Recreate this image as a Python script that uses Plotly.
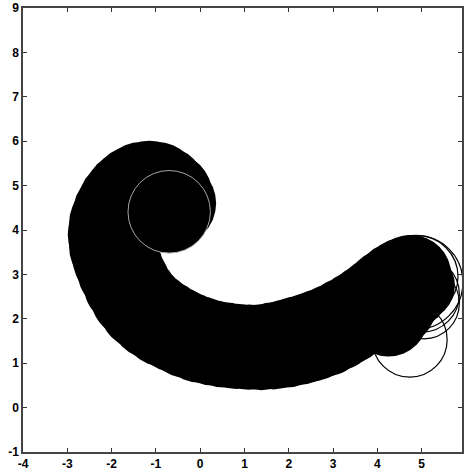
import plotly.graph_objects as go

# Dense sweep of circles forming the curled band: centres and radii
band_x = [-0.59, -0.68, -0.82, -0.98, -1.15, -1.33, -1.50, -1.65, -1.78, -1.90,
          -1.98, -2.01, -1.98, -1.90, -1.80, -1.66, -1.50, -1.30, -1.07, -0.82,
          -0.55, -0.28, 0.00, 0.28, 0.55, 0.82, 1.10, 1.38, 1.66, 1.94,
          2.22, 2.50, 2.78, 3.04, 3.30, 3.54, 3.78, 4.00, 4.22, 4.42,
          4.60, 4.75, 4.25, 4.45, 4.60, 4.78, 4.95]
band_y = [4.60, 4.80, 4.93, 5.02, 5.05, 5.02, 4.93, 4.80, 4.62, 4.40,
          4.15, 3.90, 3.62, 3.36, 3.10, 2.80, 2.52, 2.27, 2.07, 1.90,
          1.76, 1.63, 1.53, 1.46, 1.41, 1.38, 1.36, 1.36, 1.39, 1.44,
          1.51, 1.59, 1.69, 1.81, 1.95, 2.10, 2.27, 2.44, 2.62, 2.78,
          2.90, 2.97, 2.05, 2.28, 2.50, 2.62, 2.75]
band_r = [0.95, 0.95, 0.95, 0.96, 0.96, 0.96, 0.96, 0.96, 0.97, 0.97,
          0.98, 0.98, 0.98, 0.98, 0.98, 0.98, 0.98, 0.98, 0.98, 0.98,
          0.97, 0.97, 0.97, 0.96, 0.96, 0.96, 0.96, 0.97, 0.98, 0.99,
          1.00, 1.00, 1.00, 0.99, 0.98, 0.97, 0.96, 0.95, 0.95, 0.94,
          0.93, 0.92, 0.90, 0.88, 0.86, 0.83, 0.80]

# Starting circle (light rim)
ring_x, ring_y, ring_r = -0.70, 4.41, 0.93

# Sparse final circles drawn as outlines
end_x = [4.87, 4.90, 5.00, 5.05, 4.73]
end_y = [2.82, 2.95, 2.55, 2.35, 1.53]
end_r = [1.06, 0.92, 0.85, 0.80, 0.845]

x_ticks = [-4, -3, -2, -1, 0, 1, 2, 3, 4, 5]
y_ticks = [-1, 0, 1, 2, 3, 4, 5, 6, 7, 8, 9]

fig = go.Figure()
fig.add_trace(go.Scatter(x=[None], y=[None], showlegend=False))

for cx, cy, r in zip(band_x, band_y, band_r):
    fig.add_shape(type="circle", xref="x", yref="y",
                  x0=cx - r, x1=cx + r, y0=cy - r, y1=cy + r,
                  fillcolor="black", line=dict(width=0), layer="above")

fig.add_shape(type="circle", xref="x", yref="y",
              x0=ring_x - ring_r, x1=ring_x + ring_r,
              y0=ring_y - ring_r, y1=ring_y + ring_r,
              fillcolor="black", line=dict(color="rgb(165,165,165)", width=1),
              layer="above")

for cx, cy, r in zip(end_x, end_y, end_r):
    fig.add_shape(type="circle", xref="x", yref="y",
                  x0=cx - r, x1=cx + r, y0=cy - r, y1=cy + r,
                  fillcolor="rgba(0,0,0,0)", line=dict(color="black", width=1.2),
                  layer="above")

axis_style = dict(showgrid=False, zeroline=False, ticks="inside", ticklen=4,
                  tickwidth=1, tickcolor="#333", showline=True, linecolor="#444",
                  linewidth=1.5, mirror="ticks", ticklabeloverflow="allow",
                  tickfont=dict(family="Liberation Sans", size=12, color="black"))

fig.update_xaxes(range=[-4, 5.91], tickvals=x_ticks,
                 ticktext=[f"<b>{v}</b>" for v in x_ticks], **axis_style)
fig.update_yaxes(range=[-1, 9], tickvals=y_ticks,
                 ticktext=[f"<b>{v}</b>" for v in y_ticks], **axis_style)

fig.update_layout(width=465, height=474,
                  margin=dict(l=23, r=1, t=5, b=22),
                  paper_bgcolor="white", plot_bgcolor="white",
                  showlegend=False)

fig.write_html("out.html")
